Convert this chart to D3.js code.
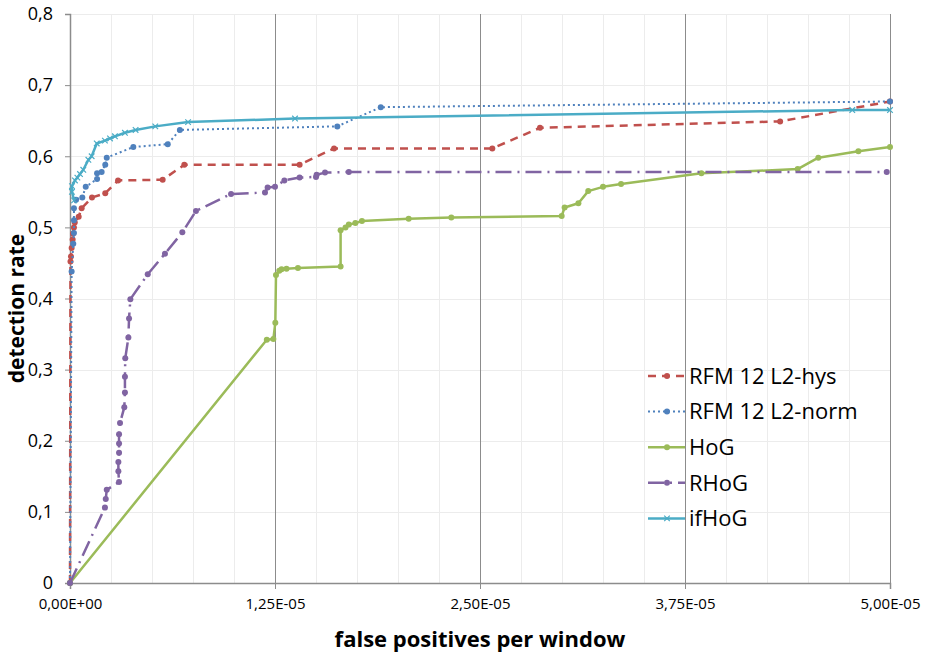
<!DOCTYPE html>
<html lang="en">
<head>
    <meta charset="UTF-8">
    <title>Detection rate vs false positives</title>
    <script src="https://d3js.org/d3.v7.min.js"></script>
    <style>
        body { margin: 0; background: #fff; }
        text { font-family: "Open Sans", "Noto Sans", sans-serif; fill: #000; }
        .x-tick { font-size: 15px; }
        .y-tick { font-size: 18px; }
        .axis-title { font-size: 22px; font-weight: bold; }
        .y-title { font-size: 21px; }
        .legend-label { font-size: 22px; }
    </style>
</head>
<body>

<script>

// ================== DATA ==================
// x values are false positives per window, in units of 1E-05
var hysX  = [0, 0.003, 0.006, 0.01, 0.016, 0.018, 0.024, 0.029, 0.053, 0.071, 0.134, 0.215, 0.293, 0.565, 0.697, 1.40, 1.61, 2.575, 2.866, 4.33, 5.0];
var hysY  = [0, 0.452, 0.459, 0.471, 0.483, 0.491, 0.500, 0.507, 0.515, 0.527, 0.542, 0.548, 0.566, 0.567, 0.588, 0.588, 0.611, 0.611, 0.640, 0.649, 0.677];

var normX = [0, 0.01, 0.02, 0.024, 0.024, 0.024, 0.037, 0.075, 0.096, 0.165, 0.165, 0.193, 0.215, 0.224, 0.386, 0.596, 0.67, 1.63, 1.895, 5.0];
var normY = [0, 0.438, 0.477, 0.492, 0.510, 0.527, 0.539, 0.542, 0.557, 0.568, 0.576, 0.578, 0.588, 0.598, 0.613, 0.617, 0.637, 0.642, 0.669, 0.677];

var hogX  = [0, 1.20, 1.24, 1.252, 1.256, 1.276, 1.29, 1.32, 1.39, 1.65, 1.65, 1.68, 1.70, 1.74, 1.78, 2.065, 2.325, 2.998, 3.016, 3.10, 3.16, 3.25, 3.36, 3.85, 4.437, 4.563, 4.807, 5.0];
var hogY  = [0, 0.342, 0.343, 0.366, 0.433, 0.439, 0.441, 0.442, 0.443, 0.445, 0.496, 0.500, 0.504, 0.506, 0.509, 0.512, 0.514, 0.516, 0.528, 0.534, 0.551, 0.557, 0.561, 0.576, 0.582, 0.598, 0.607, 0.613];

var rhogX = [0, 0.213, 0.218, 0.224, 0.299, 0.295, 0.295, 0.299, 0.299, 0.299, 0.305, 0.331, 0.335, 0.335, 0.337, 0.356, 0.360, 0.368, 0.474, 0.579, 0.685, 0.768, 0.982, 1.189, 1.205, 1.25, 1.307, 1.40, 1.50, 1.504, 1.555, 1.70, 4.98];
var rhogY = [0, 0.106, 0.118, 0.131, 0.142, 0.157, 0.170, 0.183, 0.196, 0.209, 0.225, 0.247, 0.268, 0.290, 0.316, 0.345, 0.372, 0.399, 0.434, 0.463, 0.493, 0.523, 0.547, 0.549, 0.556, 0.557, 0.566, 0.570, 0.571, 0.574, 0.577, 0.578, 0.578];

var ifhogX = [0.025, 0.012, 0.012, 0.03, 0.045, 0.061, 0.081, 0.112, 0.132, 0.163, 0.213, 0.244, 0.274, 0.335, 0.40, 0.52, 0.72, 1.372, 4.77, 5.0];
var ifhogY = [0.538, 0.550, 0.558, 0.566, 0.570, 0.575, 0.581, 0.595, 0.600, 0.618, 0.622, 0.625, 0.628, 0.633, 0.637, 0.642, 0.648, 0.653, 0.665, 0.665];

var seriesNames = ["RFM 12 L2-hys", "RFM 12 L2-norm", "HoG", "RHoG", "ifHoG"];
var xTicks = [0, 1.25e-5, 2.5e-5, 3.75e-5, 5e-5];
var yTicks = [0, 0.1, 0.2, 0.3, 0.4, 0.5, 0.6, 0.7, 0.8];
var X_UNIT = 1e-5;

// ================== INIT SVG ==================
var w = 933;
var h = 652;
var margin = { top: 14, bottom: 69, left: 70, right: 43 };
var width = w - margin.left - margin.right;
var height = h - margin.top - margin.bottom;

var svg = d3.select("body").append("svg")
    .attr("width", w)
    .attr("height", h);

var chart = svg.append("g")
    .attr("transform", "translate(" + margin.left + "," + margin.top + ")");

// ================== SCALES ==================
var x = d3.scaleLinear().domain([0, 5e-5]).range([0, width]);
var y = d3.scaleLinear().domain([0, 0.8]).range([height, 0]);

function sciFormat(d) {
    var parts = d.toExponential(2).split("e");
    var e = parseInt(parts[1], 10);
    var exp = (e < 0 ? "-" : "+") + (Math.abs(e) < 10 ? "0" : "") + Math.abs(e);
    return parts[0].replace(".", ",") + "E" + exp;
}

// ================== GRID ==================
var minorX = d3.range(0, 21).map(function(i){ return i * 0.25e-5; });

chart.append("g")
    .selectAll("line")
    .data(yTicks.slice(1))
    .enter().append("line")
    .attr("x1", 0).attr("x2", width)
    .attr("y1", function(d){ return Math.round(y(d)) + 0.5; })
    .attr("y2", function(d){ return Math.round(y(d)) + 0.5; })
    .attr("stroke", "#ececec");

chart.append("g")
    .selectAll("line")
    .data(minorX.filter(function(d, i){ return i % 5 !== 0; }))
    .enter().append("line")
    .attr("x1", function(d){ return Math.round(x(d)) + 0.5; })
    .attr("x2", function(d){ return Math.round(x(d)) + 0.5; })
    .attr("y1", 0).attr("y2", height)
    .attr("stroke", "#ececec");

chart.append("g")
    .selectAll("line")
    .data(xTicks.slice(1))
    .enter().append("line")
    .attr("x1", function(d){ return Math.round(x(d)) + 0.5; })
    .attr("x2", function(d){ return Math.round(x(d)) + 0.5; })
    .attr("y1", 0).attr("y2", height)
    .attr("stroke", "#8c8c8c");

// ================== AXES ==================
var xAxis = d3.axisBottom(x)
    .tickValues(xTicks)
    .tickSize(6)
    .tickPadding(9)
    .tickFormat(sciFormat);

var yAxis = d3.axisLeft(y)
    .tickValues(yTicks)
    .tickSize(5)
    .tickPadding(12)
    .tickFormat(function(d){ return d === 0 ? "0" : d.toFixed(1).replace(".", ","); });

var gx = chart.append("g")
    .attr("transform", "translate(0," + height + ")")
    .call(xAxis);
var gy = chart.append("g").call(yAxis);

[gx, gy].forEach(function(g){
    g.attr("font-family", null).attr("font-size", null);
    g.select(".domain").attr("stroke", "#8c8c8c").attr("stroke-width", 1.5);
    g.selectAll(".tick line").attr("stroke", "#8c8c8c");
});
gx.selectAll(".tick text").attr("class", "x-tick");
gy.selectAll(".tick text").attr("class", "y-tick");

chart.append("text")
    .attr("class", "axis-title")
    .attr("text-anchor", "middle")
    .attr("transform", "translate(" + (width / 2) + "," + (height + 64) + ")")
    .text("false positives per window");

chart.append("text")
    .attr("class", "axis-title y-title")
    .attr("text-anchor", "middle")
    .attr("transform", "translate(" + (-46) + "," + (height / 2 + 10) + ") rotate(-90)")
    .text("detection rate");

// ================== SERIES ==================
function zipPts(xs, ys) {
    return xs.map(function(v, i){ return { x: v * X_UNIT, y: ys[i] }; });
}

var series = [
    { name: seriesNames[0], pts: zipPts(hysX, hysY),   color: "#C0504D", dash: "8,6",      width: 2.5, marker: "circle" },
    { name: seriesNames[1], pts: zipPts(normX, normY), color: "#4F81BD", dash: "2,3",      width: 2,   marker: "circle" },
    { name: seriesNames[2], pts: zipPts(hogX, hogY),   color: "#9BBB59", dash: null,       width: 2.5, marker: "circle" },
    { name: seriesNames[3], pts: zipPts(rhogX, rhogY), color: "#8064A2", dash: "16,6,2,6", width: 2.5, marker: "circle" },
    { name: seriesNames[4], pts: zipPts(ifhogX, ifhogY), color: "#4BACC6", dash: null,     width: 2.5, marker: "x" }
];

var line = d3.line()
    .x(function(d){ return x(d.x); })
    .y(function(d){ return y(d.y); });

var symX = d3.symbol().type(d3.symbolX).size(22);

function drawMarker(g, kind, color) {
    if (kind === "circle") {
        g.append("circle").attr("r", 3).attr("fill", color);
    } else {
        g.append("path").attr("d", symX()).attr("fill", "none")
            .attr("stroke", color).attr("stroke-width", 1.2);
    }
}

series.forEach(function(s){
    var g = chart.append("g");
    g.append("path")
        .datum(s.pts)
        .attr("d", line)
        .attr("fill", "none")
        .attr("stroke", s.color)
        .attr("stroke-width", s.width)
        .attr("stroke-dasharray", s.dash)
        .attr("stroke-linejoin", "round");
    g.selectAll(".pt")
        .data(s.pts)
        .enter().append("g")
        .attr("class", "pt")
        .attr("transform", function(d){ return "translate(" + x(d.x) + "," + y(d.y) + ")"; })
        .each(function(){ drawMarker(d3.select(this), s.marker, s.color); });
});

// ================== LEGEND ==================
var legend = svg.append("g").attr("transform", "translate(648,376)");
series.forEach(function(s, i){
    var row = legend.append("g").attr("transform", "translate(0," + (i * 35.6) + ")");
    row.append("line")
        .attr("x1", 0).attr("x2", 37)
        .attr("stroke", s.color)
        .attr("stroke-width", s.width)
        .attr("stroke-dasharray", s.dash);
    var m = row.append("g").attr("transform", "translate(19,0)");
    drawMarker(m, s.marker, s.color);
    row.append("text")
        .attr("class", "legend-label")
        .attr("x", 41)
        .attr("dy", "0.35em")
        .text(s.name);
});

</script>
</body>
</html>
